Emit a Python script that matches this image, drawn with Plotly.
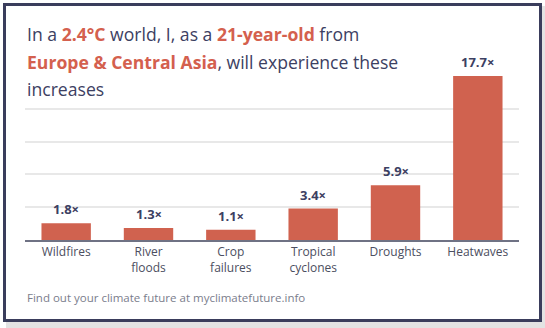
import plotly.graph_objects as go

categories = ["Wildfires", "River<br>floods", "Crop<br>failures", "Tropical<br>cyclones", "Droughts", "Heatwaves"]
values = [1.8, 1.3, 1.1, 3.4, 5.9, 17.7]
value_labels = ["1.8×", "1.3×", "1.1×", "3.4×", "5.9×", "17.7×"]
title_lines = [
    'In a <b><span style="color:#d4604e">2.4°C</span></b> world, I, as a <b><span style="color:#d4604e">21-year-old</span></b> from',
    '<b><span style="color:#d4604e">Europe &amp; Central Asia</span></b>, will experience these',
    'increases',
]
footer = "Find out your climate future at myclimatefuture.info"

W_FIG, H_FIG = 545, 328
L, R, T, B = 25, 26, 76, 88
PW, PH = W_FIG - L - R, H_FIG - T - B

def px(x):
    return (x - L) / PW

def py(y):
    return 1 - (y - T) / PH

FONT = "Open Sans"
NAVY = "#3c4062"
BAR = "#d0624f"

ymax = max(values)
tickvals = [ymax * i / 5 for i in range(6)]

fig = go.Figure()
fig.add_trace(go.Bar(
    x=categories, y=values, marker=dict(color=BAR, line=dict(width=0)),
    hoverinfo="skip",
))

shapes = [
    # shadow
    dict(type="rect", xref="paper", yref="paper", x0=px(6), x1=px(546), y0=py(6), y1=py(330),
         fillcolor="#e3e3e3", line=dict(width=0), layer="below"),
    # card
    dict(type="rect", xref="paper", yref="paper", x0=px(4.5), x1=px(540.5), y0=py(4.5), y1=py(320.5),
         fillcolor="white", line=dict(color="#3a3d5c", width=3), layer="below"),
    # title cover
    dict(type="rect", xref="paper", yref="paper", x0=px(22), x1=px(403), y0=py(70), y1=py(100),
         fillcolor="white", line=dict(width=0), layer="above"),
]

annotations = []
for i, line in enumerate(title_lines):
    annotations.append(dict(
        text=line, xref="paper", yref="paper", x=px(25), y=py([34, 62, 89][i]),
        xanchor="left", yanchor="middle", showarrow=False,
        font=dict(family=FONT, size=17.6, color=NAVY), align="left",
    ))
for c, v, lab in zip(categories, values, value_labels):
    annotations.append(dict(
        text=f"<b>{lab}</b>", x=c, y=v, xref="x", yref="y", yanchor="middle", yshift=14,
        showarrow=False, font=dict(family=FONT, size=13, color=NAVY),
    ))
annotations.append(dict(
    text=footer, xref="paper", yref="paper", x=px(25), y=py(297), xanchor="left", yanchor="middle",
    showarrow=False, font=dict(family=FONT, size=11.5, color="#7a7d8c"),
))

fig.update_layout(
    width=W_FIG, height=H_FIG,
    margin=dict(l=L, r=R, t=T, b=B, pad=0),
    paper_bgcolor="white", plot_bgcolor="rgba(0,0,0,0)",
    bargap=0.4, showlegend=False,
    shapes=shapes, annotations=annotations,
    font=dict(family=FONT),
)
fig.update_xaxes(
    showline=True, linecolor="#6f7284", linewidth=2, ticks="",
    tickfont=dict(family=FONT, size=12, color="#4b4e60"), showgrid=False,
)
fig.update_yaxes(
    range=[0, ymax], tickvals=tickvals, showticklabels=False, showgrid=True,
    gridcolor="#e8e8e8", gridwidth=1.5, zeroline=False,
)
fig.write_html("out.html")
